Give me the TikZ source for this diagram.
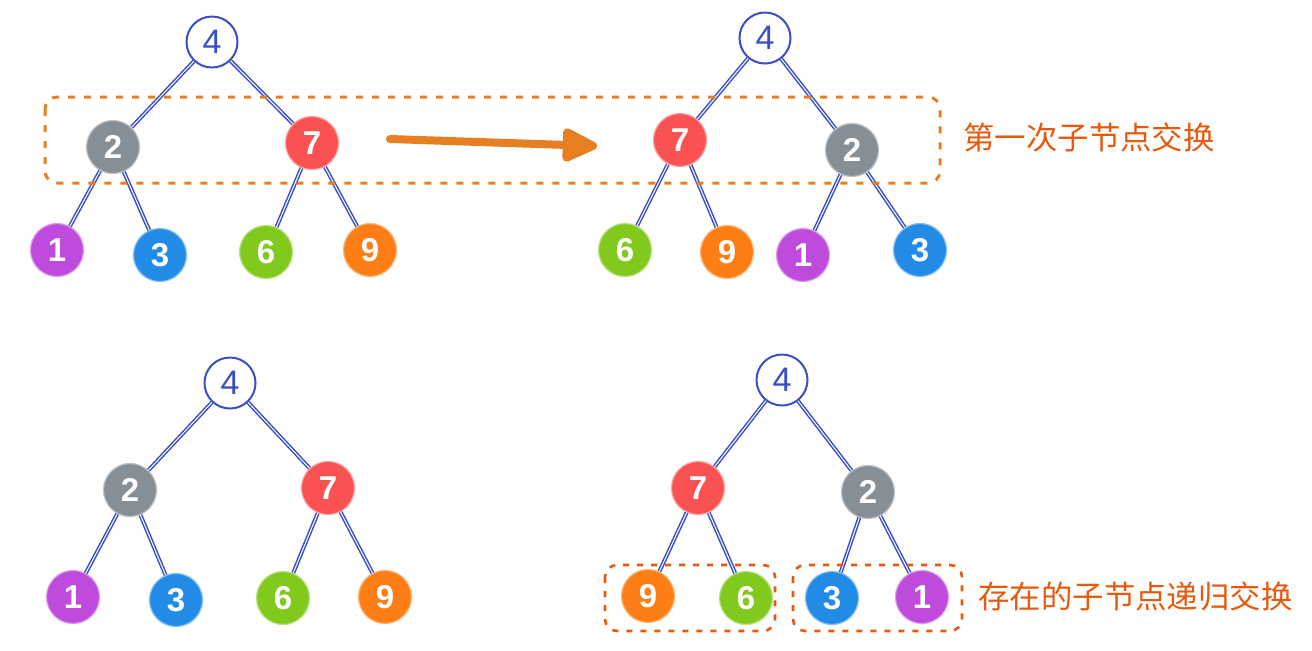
\documentclass[tikz,border=0pt]{standalone}
\usepackage{fontspec}
\newfontfamily\numfont{Liberation Sans}
\newfontfamily\cjk{Noto Sans CJK SC}
\usetikzlibrary{arrows.meta}
\definecolor{cgray}{HTML}{868E96}
\definecolor{cred}{HTML}{FA5252}
\definecolor{cpurple}{HTML}{BE4BDB}
\definecolor{cblue}{HTML}{228BE6}
\definecolor{cgreen}{HTML}{82C91E}
\definecolor{corange}{HTML}{FD7E14}
\definecolor{edgeblue}{HTML}{3B4FC4}
\definecolor{labelred}{HTML}{E8590C}
\definecolor{boxorange}{HTML}{E67E22}
\tikzset{
  tnode/.style={circle, minimum size=26.5pt, inner sep=0pt, text=white,
    font=\numfont\bfseries\fontsize{16.5}{17}\selectfont, fill=#1, draw=#1!55, line width=0.6pt},
  rootnode/.style={circle, minimum size=25.5pt, inner sep=0pt, text=edgeblue,
    font=\numfont\fontsize{17}{17}\selectfont, fill=white, draw=edgeblue, line width=1pt},
  edge/.style={draw=edgeblue, line width=0.75pt, double=white, double distance=0.5pt},
  tbox/.style={draw=boxorange, line width=1.5pt, dash pattern=on 3.5pt off 4.5pt, rounded corners=6pt},
  bbox/.style={draw=labelred, line width=1.3pt, dash pattern=on 3pt off 4pt, rounded corners=6pt},
  lbl/.style={text=labelred, font=\cjk\fontsize{15.7}{16}\selectfont, anchor=west, inner sep=0pt},
  bigarrow/.style={draw=boxorange, line width=4pt, line cap=round,
    -{Triangle[length=20pt,width=18pt,round]}}
}
\begin{document}
\begin{tikzpicture}[x=0.5pt,y=-0.5pt]
\useasboundingbox (0,0) rectangle (1312,650);
% ---------- tree A (top-left)
\node[rootnode] (a4) at (212,42) {4};
\node[tnode=cgray] (a2) at (113,147) {2};
\node[tnode=cred] (a7) at (312,143) {7};
\node[tnode=cpurple] (a1) at (57,250) {1};
\node[tnode=cblue] (a3) at (160,255) {3};
\node[tnode=cgreen] (a6) at (266,252) {6};
\node[tnode=corange] (a9) at (370,250) {9};
\draw[edge] (a4) -- (a2);
\draw[edge] (a4) -- (a7);
\draw[edge] (a2) -- (a1);
\draw[edge] (a2) -- (a3);
\draw[edge] (a7) -- (a6);
\draw[edge] (a7) -- (a9);
% ---------- tree B (top-right)
\node[rootnode] (b4) at (765,38) {4};
\node[tnode=cred] (b7) at (680,140) {7};
\node[tnode=cgray] (b2) at (852,150) {2};
\node[tnode=cgreen] (b6) at (625,250) {6};
\node[tnode=corange] (b9) at (727,252) {9};
\node[tnode=cpurple] (b1) at (803,255) {1};
\node[tnode=cblue] (b3) at (920,250) {3};
\draw[edge] (b4) -- (b7);
\draw[edge] (b4) -- (b2);
\draw[edge] (b7) -- (b6);
\draw[edge] (b7) -- (b9);
\draw[edge] (b2) -- (b1);
\draw[edge] (b2) -- (b3);
% ---------- tree C (bottom-left)
\node[rootnode] (c4) at (230,383) {4};
\node[tnode=cgray] (c2) at (130,490) {2};
\node[tnode=cred] (c7) at (328,488) {7};
\node[tnode=cpurple] (c1) at (73,597) {1};
\node[tnode=cblue] (c3) at (176,600) {3};
\node[tnode=cgreen] (c6) at (283,598) {6};
\node[tnode=corange] (c9) at (385,597) {9};
\draw[edge] (c4) -- (c2);
\draw[edge] (c4) -- (c7);
\draw[edge] (c2) -- (c1);
\draw[edge] (c2) -- (c3);
\draw[edge] (c7) -- (c6);
\draw[edge] (c7) -- (c9);
% ---------- tree D (bottom-right)
\node[rootnode] (d4) at (782,380) {4};
\node[tnode=cred] (d7) at (698,488) {7};
\node[tnode=cgray] (d2) at (868,492) {2};
\node[tnode=corange] (d9) at (648,596) {9};
\node[tnode=cgreen] (d6) at (746,598) {6};
\node[tnode=cblue] (d3) at (832,598) {3};
\node[tnode=cpurple] (d1) at (922,597) {1};
\draw[edge] (d4) -- (d7);
\draw[edge] (d4) -- (d2);
\draw[edge] (d7) -- (d9);
\draw[edge] (d7) -- (d6);
\draw[edge] (d2) -- (d3);
\draw[edge] (d2) -- (d1);
% ---------- boxes, arrow, labels
\draw[tbox] (45,97) rectangle (940,183);
\draw[bbox] (605,565) rectangle (775,631);
\draw[bbox] (793,565) rectangle (962,631);
\coordinate (arrS) at (390,139);
\coordinate (arrE) at (597,146);
\draw[bigarrow] (arrS) -- (arrE);
\node[lbl] (l1) at (963,137) {第一次子节点交换};
\node[lbl] (l2) at (978,596) {存在的子节点递归交换};
\end{tikzpicture}
\end{document}
